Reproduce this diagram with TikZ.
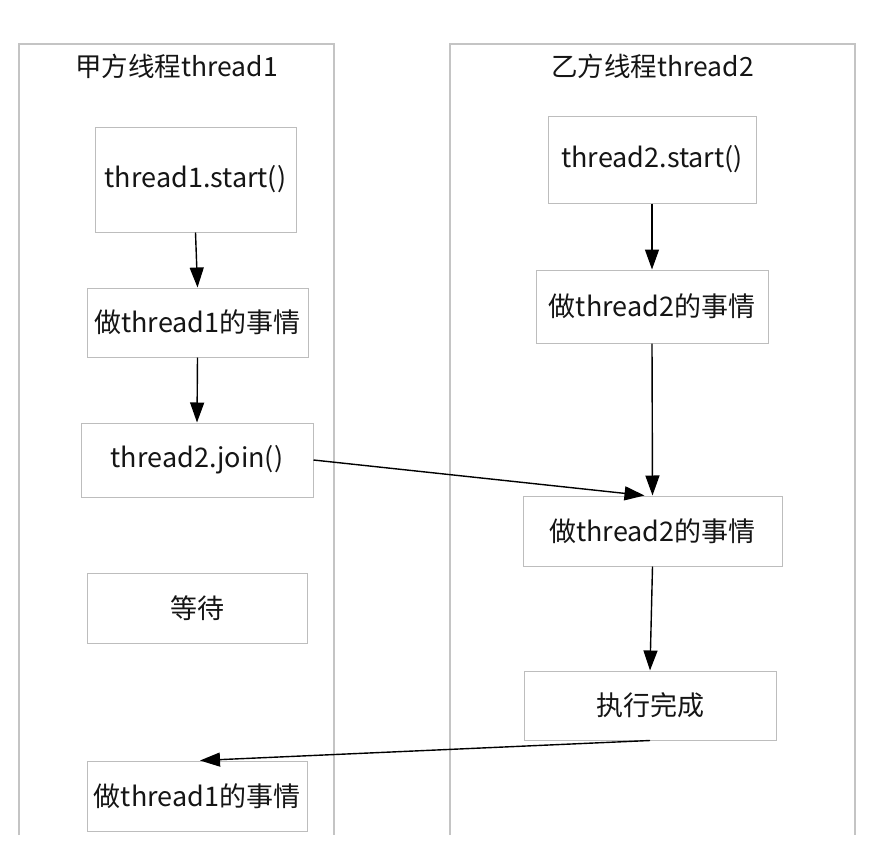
\documentclass[tikz,border=0pt]{standalone}
\usepackage{fontspec}
\setmainfont{Noto Sans CJK SC}
\usetikzlibrary{arrows.meta}
\definecolor{lanegray}{HTML}{C4C4C4}
\definecolor{boxgray}{HTML}{BDBDBD}
\definecolor{txt}{HTML}{151515}
\tikzset{
  x=1pt,y=-1pt,
  stepbox/.style={draw=boxgray,line width=1pt,rectangle,inner sep=0pt,align=center,
    font=\fontsize{27}{32}\selectfont,text=txt},
  lanetitle/.style={inner sep=0pt,font=\fontsize{26.5}{32}\selectfont,text=txt},
  flow/.style={draw=black,line width=1.4pt,-{Triangle[length=20pt,width=14pt]}},
  laneline/.style={draw=lanegray,line width=1.2pt}
}
\begin{document}
\begin{tikzpicture}
\useasboundingbox (0,0) rectangle (876,851);
\fill[white] (0,0) rectangle (876,851);
% lanes
\draw[laneline] (19,835) -- (19,44) -- (334,44) -- (334,835);
\draw[laneline] (450,835) -- (450,44) -- (855,44) -- (855,835);
\node[lanetitle] (t1) at (176.5,66) {甲方线程thread1};
\node[lanetitle] (t2) at (652.5,66) {乙方线程thread2};
% left lane
\node[stepbox,minimum width=201pt,minimum height=105pt] (s1) at (195.5,179.5) {thread1.start()};
\node[stepbox,minimum width=221pt,minimum height=69pt] (d1) at (197.5,322.5) {做thread1的事情};
\node[stepbox,minimum width=232pt,minimum height=74pt] (j) at (197,460) {thread2.join()};
\node[stepbox,minimum width=220pt,minimum height=70pt] (w) at (197,608) {等待};
\node[stepbox,minimum width=220pt,minimum height=70pt] (d1b) at (197,796) {做thread1的事情};
% right lane
\node[stepbox,minimum width=208pt,minimum height=87pt] (s2) at (652,159.5) {thread2.start()};
\node[stepbox,minimum width=232pt,minimum height=73pt] (d2) at (652,306.5) {做thread2的事情};
\node[stepbox,minimum width=259pt,minimum height=70pt] (d2b) at (652.5,531) {做thread2的事情};
\node[stepbox,minimum width=252pt,minimum height=69pt] (done) at (650,705.5) {执行完成};
% connectors
\draw[flow] (s1.south) -- (d1.north);
\draw[flow] (d1.south) -- (j.north);
\draw[flow] (s2.south) -- (d2.north);
\draw[flow] (d2.south) -- (d2b.north);
\draw[flow] (j.east) -- ([xshift=-8pt]d2b.north);
\draw[flow] (d2b.south) -- (done.north);
\draw[flow] (done.south) -- ([xshift=3pt]d1b.north);
\end{tikzpicture}
\end{document}
